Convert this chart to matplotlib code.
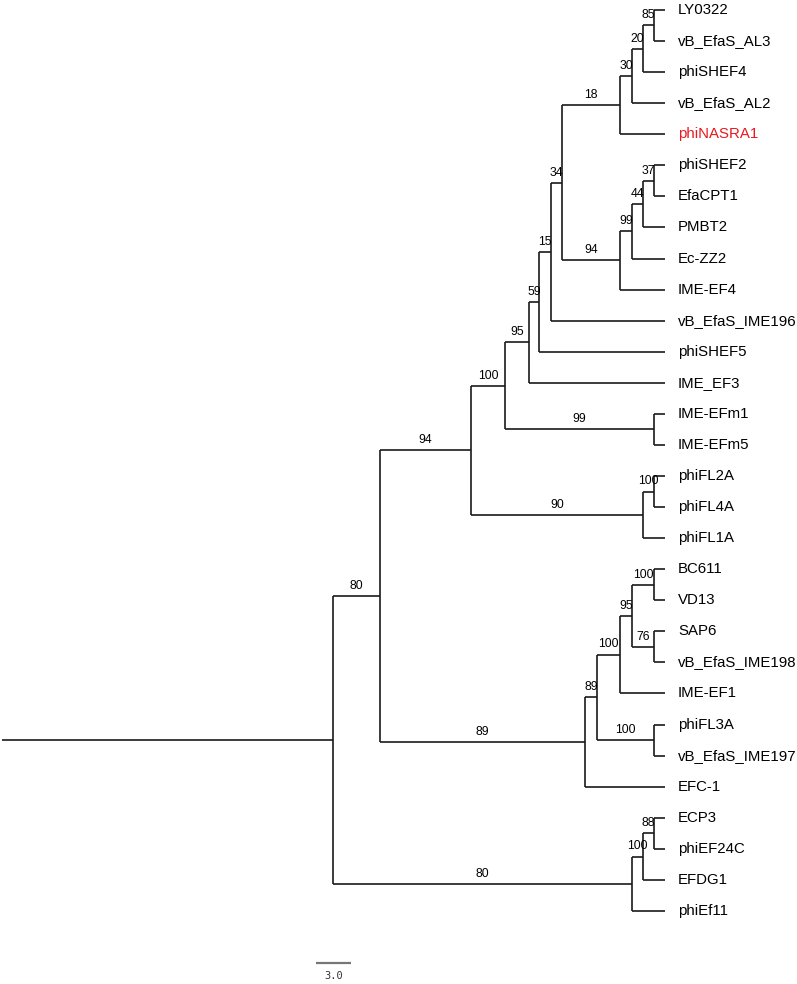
import matplotlib
matplotlib.use("Agg")
import matplotlib.pyplot as plt

# tree as parallel lists: node name, parent, branch length (tree units), bootstrap support
node_name = [
    "n0", "n80a", "n94a", "n100a", "n95a", "n59", "n15", "n34", "n18", "n30", "n20", "n85",
    "LY0322", "vB_EfaS_AL3", "phiSHEF4", "vB_EfaS_AL2", "phiNASRA1",
    "n94b", "n99a", "n44", "n37", "phiSHEF2", "EfaCPT1", "PMBT2", "Ec-ZZ2", "IME-EF4",
    "vB_EfaS_IME196", "phiSHEF5", "IME_EF3",
    "n99b", "IME-EFm1", "IME-EFm5",
    "n90", "n100b", "phiFL2A", "phiFL4A", "phiFL1A",
    "n89a", "n89b", "n100c", "n95b", "n100d", "BC611", "VD13", "n76", "SAP6", "vB_EfaS_IME198",
    "IME-EF1", "n100e", "phiFL3A", "vB_EfaS_IME197", "EFC-1",
    "n80b", "n100f", "n88", "ECP3", "phiEF24C", "EFDG1", "phiEf11",
]
node_parent = [
    "root", "n0", "n80a", "n94a", "n100a", "n95a", "n59", "n15", "n34", "n18", "n30", "n20",
    "n85", "n85", "n20", "n30", "n18",
    "n34", "n94b", "n99a", "n44", "n37", "n37", "n44", "n99a", "n94b",
    "n15", "n59", "n95a",
    "n100a", "n99b", "n99b",
    "n94a", "n90", "n100b", "n100b", "n90",
    "n80a", "n89a", "n89b", "n100c", "n95b", "n100d", "n100d", "n95b", "n76", "n76",
    "n100c", "n89b", "n100e", "n100e", "n89a",
    "n0", "n80b", "n100f", "n88", "n88", "n100f", "n80b",
]
branch_len = [
    28.17, 4.00, 7.74, 2.89, 2.04, 0.85, 1.02, 0.94, 4.94, 1.02, 0.94, 0.94,
    0.94, 0.94, 1.87, 2.81, 3.83,
    4.94, 1.02, 0.94, 0.94, 0.94, 0.94, 1.87, 2.81, 3.83,
    9.70, 10.72, 11.57,
    12.68, 0.94, 0.94,
    14.64, 0.94, 0.94, 0.94, 1.87,
    17.45, 1.02, 1.96, 1.02, 1.87, 0.94, 0.94, 1.87, 0.94, 0.94,
    3.83, 4.85, 0.94, 0.94, 6.81,
    25.45, 0.94, 0.94, 0.94, 0.94, 1.87, 2.81,
]
support = [
    None, 80, 94, 100, 95, 59, 15, 34, 18, 30, 20, 85,
    None, None, None, None, None,
    94, 99, 44, 37, None, None, None, None, None,
    None, None, None,
    99, None, None,
    90, 100, None, None, None,
    89, 89, 100, 95, 100, None, None, 76, None, None,
    None, 100, None, None, None,
    80, 100, 88, None, None, None, None,
]
highlight = ["phiNASRA1"]
scale_len = 3.0

parent = dict(zip(node_name, node_parent))
blen = dict(zip(node_name, branch_len))
boot = dict(zip(node_name, support))
children = {}
for n, p in zip(node_name, node_parent):
    children.setdefault(p, []).append(n)

# x = cumulative branch length from the root
xpos = {"root": 0.0}
for n in node_name:
    xpos[n] = xpos[parent[n]] + blen[n]

# y: leaves in order, internal nodes at the midpoint of their children
ypos = {}
leaf_count = [0]

def place(n):
    kids = children.get(n, [])
    if not kids:
        ypos[n] = leaf_count[0]
        leaf_count[0] += 1
        return
    for k in kids:
        place(k)
    ypos[n] = (ypos[kids[0]] + ypos[kids[-1]]) / 2

place("root")
ypos["root"] = ypos["n0"]

fig = plt.figure(figsize=(7.97, 9.84), dpi=100)
ax = fig.add_axes([0, 0, 1, 1])
ax.set_xlim(-0.17, 67.66)
ax.set_ylim(31.35, -0.32)
ax.axis("off")

lc = "#1a1a1a"
lw = 1.2
for n in node_name:
    ax.plot([xpos[parent[n]], xpos[n]], [ypos[n], ypos[n]], color=lc, lw=lw,
            solid_capstyle="butt")
    kids = children.get(n, [])
    if kids:
        ax.plot([xpos[n], xpos[n]], [ypos[kids[0]], ypos[kids[-1]]], color=lc, lw=lw,
                solid_capstyle="butt")
        if boot[n] is not None:
            xm = (xpos[parent[n]] + xpos[n]) / 2
            ax.annotate(str(boot[n]), (xm, ypos[n]), xytext=(0, 3),
                        textcoords="offset points", ha="center", va="bottom",
                        fontsize=8.7, family="Liberation Sans")
    else:
        ax.text(xpos[n] + 1.1, ypos[n], n, ha="left", va="center", fontsize=10.8,
                family="Liberation Sans",
                color="#e8191f" if n in highlight else "black")

# scale bar
sx, sy = 26.72, 30.67
ax.plot([sx, sx + scale_len], [sy, sy], color="#777777", lw=1.6, solid_capstyle="butt")
ax.text(sx + scale_len / 2, sy + 0.25, f"{scale_len:.1f}", ha="center", va="top",
        fontsize=7.5, family="DejaVu Sans Mono", color="#333333")

fig.savefig("out.png", dpi=100)
